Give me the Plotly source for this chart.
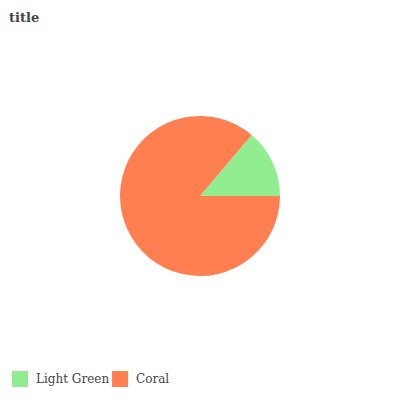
import plotly.graph_objects as go

labels = ["Light Green", "Coral"]
values = [13.8, 86.2]
colors = ["#90EE90", "#FF7F50"]

W = H = 400
OFF = 8  # page body margin offset

fig = go.Figure(go.Pie(
    labels=labels,
    values=values,
    marker=dict(colors=colors),
    sort=False,
    direction="clockwise",
    rotation=90 - 360 * values[0] / sum(values),
    textinfo="none",
    hoverinfo="label+value",
    showlegend=False,
    domain=dict(x=[(120-OFF)/W, (280-OFF)/W], y=[1-(276-OFF)/H, 1-(116-OFF)/H]),
))

# custom legend (16px swatches) built from labels/colors
shapes = []
annotations = []
x = 12 - OFF
for lab, col in zip(labels, colors):
    shapes.append(dict(type="rect", xref="paper", yref="paper",
                       x0=x/W, x1=(x+16)/W, y0=1-(387-OFF)/H, y1=1-(371-OFF)/H,
                       fillcolor=col, line=dict(width=0)))
    annotations.append(dict(text=lab, xref="paper", yref="paper",
                            x=(x+22)/W, y=1-(379-OFF)/H, xanchor="left", yanchor="middle",
                            showarrow=False,
                            font=dict(family="DejaVu Serif", size=12, color="#444")))
    x += 16 + 8 + len(lab) * 6.55 + 4

fig.update_layout(
    width=W, height=H,
    margin=dict(l=0, r=0, t=0, b=0),
    paper_bgcolor="white",
    showlegend=False,
    font=dict(family="DejaVu Serif", size=12, color="#444"),
    title=dict(text="<b>title</b>", x=1/W, xref="container", xanchor="left",
               y=1-(17-OFF)/H, yref="container", yanchor="middle",
               font=dict(family="DejaVu Serif", size=13, color="#444")),
    shapes=shapes,
    annotations=annotations,
)

fig.write_html("out.html")
